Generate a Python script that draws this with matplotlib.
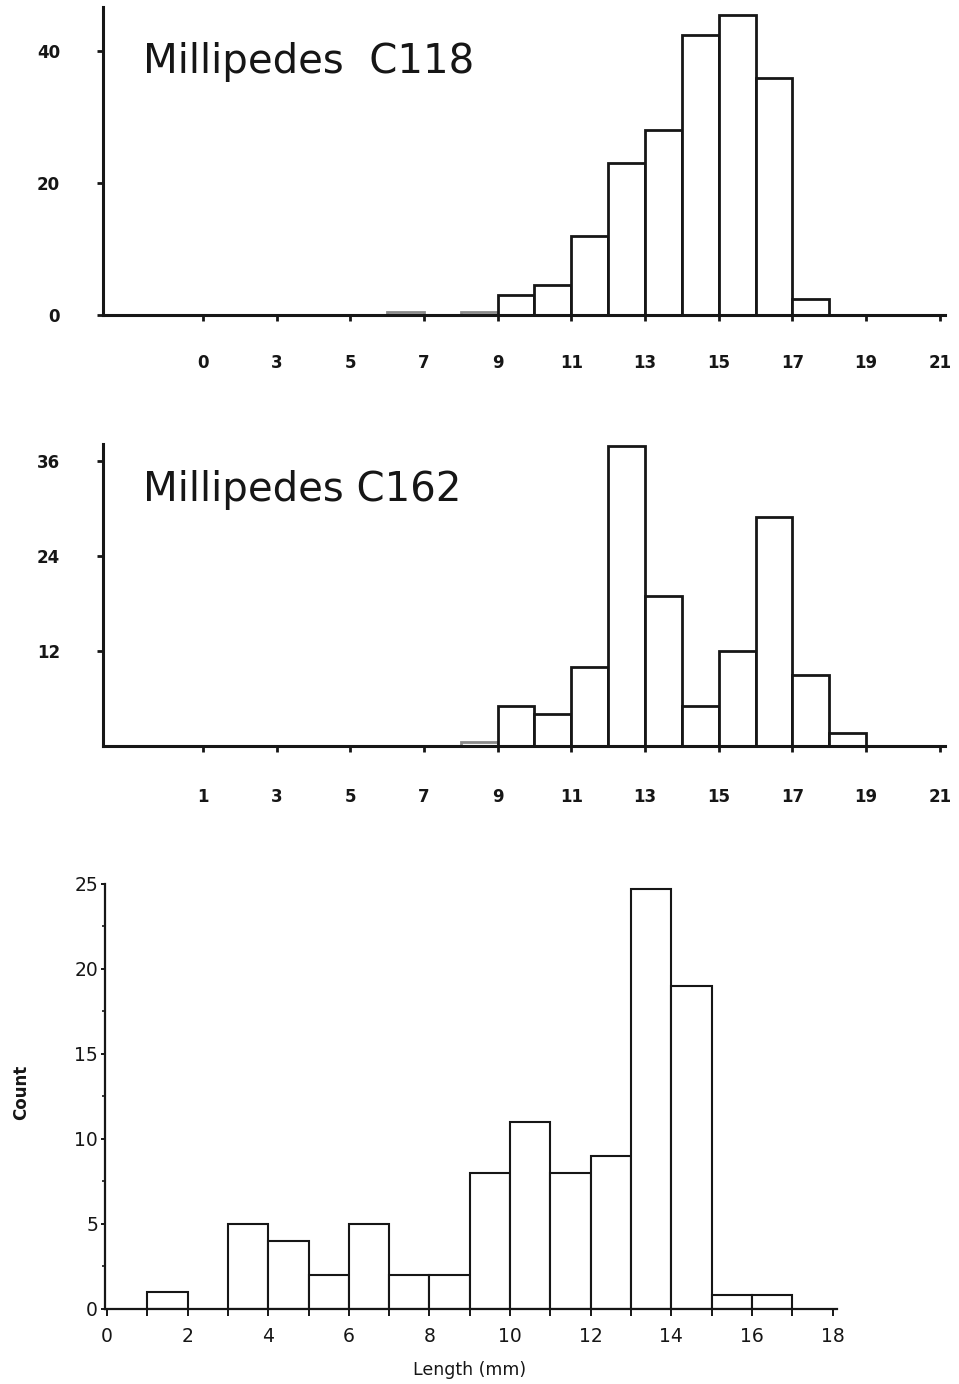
import matplotlib
matplotlib.use('Agg')
import matplotlib.pyplot as plt
from matplotlib.ticker import MultipleLocator

# Millipedes C118: bin left edges (mm) and counts
c118_left = [6, 8, 9, 10, 11, 12, 13, 14, 15, 16, 17]
c118_count = [0.4, 0.4, 3, 4.5, 12, 23, 28, 42.5, 45.5, 36, 2.4]
c118_xticks = [1, 3, 5, 7, 9, 11, 13, 15, 17, 19, 21]
c118_xlabels = ['0', '3', '5', '7', '9', '11', '13', '15', '17', '19', '21']
c118_yticks = [0, 20, 40]

# Millipedes C162
c162_left = [8, 9, 10, 11, 12, 13, 14, 15, 16, 17, 18]
c162_count = [0.5, 5, 4, 10, 38, 19, 5, 12, 29, 9, 1.6]
c162_xticks = [1, 3, 5, 7, 9, 11, 13, 15, 17, 19, 21]
c162_xlabels = ['1', '3', '5', '7', '9', '11', '13', '15', '17', '19', '21']
c162_yticks = [12, 24, 36]

# length histogram, bottom panel
len_left = [1, 3, 4, 5, 6, 7, 8, 9, 10, 11, 12, 13, 14, 15, 16]
len_count = [1, 5, 4, 2, 5, 2, 2, 8, 11, 8, 9, 24.7, 19, 0.8, 0.8]

ink = '#161616'

fig = plt.figure(figsize=(9.59, 13.84), dpi=100)
fig.patch.set_facecolor('white')


def millipede_panel(rect, left, counts, xticks, xlabels, yticks, ytop,
                    title, title_y, xpad):
    ax = fig.add_axes(rect)
    edge = [ink if c >= 1 else '#8a8a8a' for c in counts]
    ax.bar(left, counts, width=1, align='edge', color='white',
           edgecolor=edge, linewidth=2.0, zorder=2)
    ax.set_xlim(-1.71, 21.14)
    ax.set_ylim(0, ytop)
    for s in ['top', 'right']:
        ax.spines[s].set_visible(False)
    for s in ['left', 'bottom']:
        ax.spines[s].set_linewidth(2.2)
        ax.spines[s].set_color(ink)
    ax.set_xticks(xticks)
    ax.set_xticklabels(xlabels)
    ax.set_yticks(yticks)
    ax.tick_params(axis='x', length=4, width=2, color=ink, pad=xpad,
                   labelsize=12)
    ax.tick_params(axis='y', length=4, width=2, color=ink, pad=27,
                   labelsize=12)
    for lab in ax.get_xticklabels() + ax.get_yticklabels():
        lab.set_fontweight('bold')
        lab.set_color(ink)
    ax.text(0.0475, title_y, title, transform=ax.transAxes, fontsize=29,
            color=ink, va='baseline', ha='left')
    ax.set_facecolor('none')
    return ax


millipede_panel([0.1074, 0.7724, 0.878, 0.2225], c118_left, c118_count,
                c118_xticks, c118_xlabels, c118_yticks, 46.7,
                'Millipedes  C118', 0.786, 24)
millipede_panel([0.1074, 0.461, 0.878, 0.2182], c162_left, c162_count,
                c162_xticks, c162_xlabels, c162_yticks, 38.2,
                'Millipedes C162', 0.811, 26)

# bottom histogram
ax = fig.add_axes([0.1095, 0.0542, 0.7633, 0.3071])
ax.bar(len_left, len_count, width=1, align='edge', color='white',
       edgecolor=ink, linewidth=1.5, zorder=2)
ax.set_xlim(-0.05, 18.11)
ax.set_ylim(0, 25)
for s in ['top', 'right']:
    ax.spines[s].set_visible(False)
for s in ['left', 'bottom']:
    ax.spines[s].set_linewidth(1.6)
    ax.spines[s].set_color(ink)
ax.xaxis.set_major_locator(MultipleLocator(2))
ax.xaxis.set_minor_locator(MultipleLocator(1))
ax.yaxis.set_major_locator(MultipleLocator(5))
ax.yaxis.set_minor_locator(MultipleLocator(2.5))
ax.tick_params(axis='x', which='both', length=5, width=1.4, color=ink,
               pad=8, labelsize=13.5, labelcolor=ink)
ax.tick_params(axis='y', which='major', length=3, width=1.4, color=ink,
               pad=2, labelsize=13.5, labelcolor=ink)
ax.tick_params(axis='y', which='minor', length=2, width=1.2, color=ink)
ax.set_xlabel('Length (mm)', fontsize=12.5, color=ink)
ax.set_ylabel('Count', fontsize=12, fontweight='bold', color=ink)
ax.xaxis.set_label_coords(0.4986, -0.122)
ax.yaxis.set_label_coords(-0.102, 0.51)

fig.savefig('out.png', dpi=100, facecolor='white')
